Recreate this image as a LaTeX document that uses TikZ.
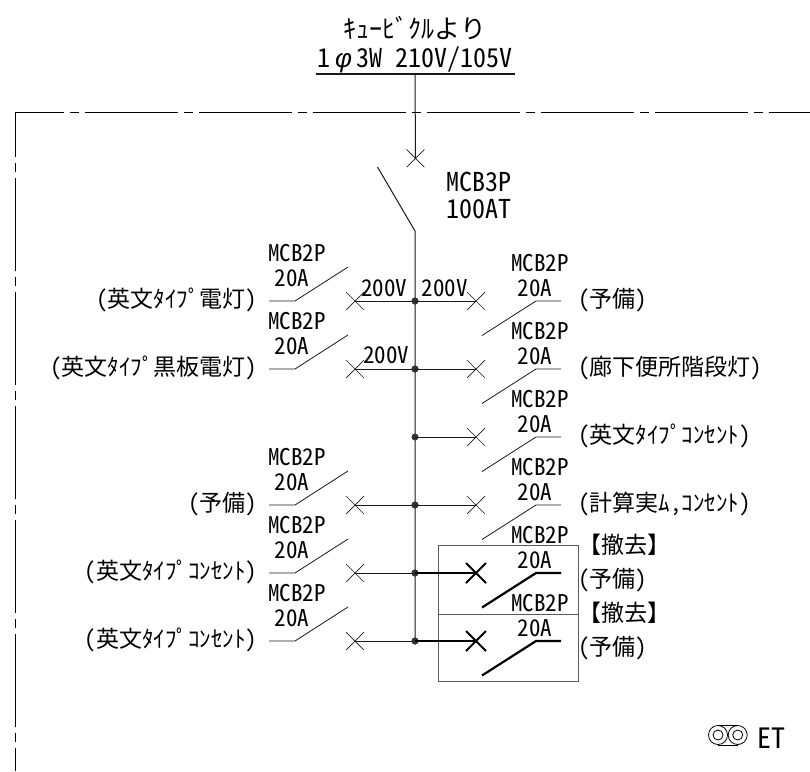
\documentclass[tikz,border=0pt]{standalone}
\usepackage{fontspec}
\usetikzlibrary{shapes.misc}
\newfontfamily\jpf{Noto Sans CJK JP}[RawFeature={+hwid}]
\newfontfamily\phif{Liberation Sans}
\tikzset{
  txt/.style={inner sep=0pt,outer sep=0pt,font=\jpf\fontsize{23}{26}\selectfont},
  big/.style={inner sep=0pt,outer sep=0pt,font=\jpf\fontsize{26}{29}\selectfont},
  wire/.style={line width=1pt,black!90},
  heavy/.style={line width=2.2pt,black},
  brk/.style={cross out,draw,inner sep=0pt,minimum size=17pt,line width=0.7pt,black!90},
  brkheavy/.style={cross out,draw,inner sep=0pt,minimum size=18pt,line width=2pt,black},
  junction/.style={circle,fill=black!80,inner sep=0pt,minimum size=7pt},
  boxline/.style={line width=0.9pt,black!65},
  frameline/.style={line width=1pt,black,dash pattern=on 93pt off 6pt on 9pt off 6pt,dash phase=70pt}
}
% left branch: id, y, label
\newcommand{\leftbranch}[3]{
  \node[junction] (dL#1) at (415,#2) {};
  \node[brk] (xL#1) at (355,#2) {};
  \draw[wire] (dL#1.center) -- (xL#1.center);
  \coordinate (aL#1) at (269,#2);
  \coordinate (bL#1) at (295,#2);
  \coordinate (cL#1) at (348,#2-34);
  \draw[wire,line width=0.8pt] (aL#1) -- (bL#1) -- (cL#1);
  \node[txt,anchor=base] (mL#1) at (297,#2-39.5) {MCB2P};
  \node[txt,anchor=base] (rL#1) at (292,#2-15) {20A};
  \node[txt,anchor=base east] (tL#1) at (257,#2+6) {#3};
}
% right branch: id, y, label
\newcommand{\rightbranch}[3]{
  \node[junction] (dR#1) at (415,#2) {};
  \node[brk] (xR#1) at (476,#2) {};
  \draw[wire] (dR#1.center) -- (xR#1.center);
  \coordinate (aR#1) at (561,#2);
  \coordinate (bR#1) at (536,#2);
  \coordinate (cR#1) at (482,#2+34.5);
  \draw[wire,line width=0.8pt] (aR#1) -- (bR#1) -- (cR#1);
  \node[txt,anchor=base] (mR#1) at (540,#2-29.5) {MCB2P};
  \node[txt,anchor=base] (rR#1) at (535,#2-5) {20A};
  \node[txt,anchor=base west] (tR#1) at (578,#2+6) {#3};
}
% heavy right branch: id, y
\newcommand{\heavybranch}[2]{
  \node[junction] (dR#1) at (415,#2) {};
  \node[brkheavy] (xR#1) at (476,#2) {};
  \draw[heavy] (dR#1.center) -- (xR#1.center);
  \coordinate (aR#1) at (561,#2);
  \coordinate (bR#1) at (536,#2);
  \coordinate (cR#1) at (482,#2+34.5);
  \draw[heavy] (aR#1) -- (bR#1) -- (cR#1);
  \node[txt,anchor=base] (mR#1) at (540,#2-30) {MCB2P};
  \node[txt,anchor=base] (rR#1) at (535,#2-5) {20A};
  \node[txt,anchor=base] (hR#1) at (624,#2-20) {【撤去】};
  \node[txt,anchor=base west] (tR#1) at (578,#2+14) {（予備）};
}
\begin{document}
\begin{tikzpicture}[x=1pt,y=-1pt]
\useasboundingbox (0,0) rectangle (810,771);
% frame
\coordinate (fa) at (15,771);
\coordinate (fb) at (15,112.5);
\coordinate (fc) at (810,112.5);
\draw[frameline] (fa) -- (fb) -- (fc);
% title
\node[big,anchor=base] (ttl) at (415,38) {ｷｭｰﾋﾞｸﾙより};
\node[big,anchor=base] (sup) at (415,67) {1{\phif\itshape\,φ\,}3W 210V/105V};
\coordinate (supL) at (316,74);
\coordinate (supR) at (515,74);
\draw[wire,line width=1.1pt] (supL) -- (supR);
\coordinate (supM) at (415,74);
\node[brk] (xmain) at (415.5,158.3) {};
\draw[wire] (supM) -- (xmain.center);
\coordinate (swA) at (377.5,167);
\coordinate (swB) at (415,231);
\coordinate (busEnd) at (415,641);
\draw[wire] (swA) -- (swB) -- (busEnd);
\node[big,anchor=base] (mcbm) at (479,191) {MCB3P};
\node[big,anchor=base] (mcba) at (479,218) {100AT};
% box
\coordinate (b1) at (438,545);
\coordinate (b2) at (578.7,614);
\coordinate (b3) at (438,681.7);
\coordinate (b4) at (578.7,545);
\draw[boxline] (b1) rectangle (b2);
\draw[boxline] (b2 -| b1) rectangle (b3 -| b2);
% branches
\leftbranch{1}{301}{（英文ﾀｲﾌﾟ電灯）}
\leftbranch{2}{369}{（英文ﾀｲﾌﾟ黒板電灯）}
\leftbranch{3}{505}{（予備）}
\leftbranch{4}{573}{（英文ﾀｲﾌﾟｺﾝｾﾝﾄ）}
\leftbranch{5}{641}{（英文ﾀｲﾌﾟｺﾝｾﾝﾄ）}
\rightbranch{1}{301}{（予備）}
\rightbranch{2}{369}{（廊下便所階段灯）}
\rightbranch{3}{437}{（英文ﾀｲﾌﾟｺﾝｾﾝﾄ）}
\rightbranch{4}{505}{（計算実ﾑ,ｺﾝｾﾝﾄ）}
\heavybranch{5}{573}
\heavybranch{6}{641}
% voltages
\node[txt,anchor=base] (v1) at (384,296) {200V};
\node[txt,anchor=base] (v2) at (444.5,296) {200V};
\node[txt,anchor=base] (v3) at (386,363) {200V};
% ET
\node[circle,draw,line width=0.8pt,minimum size=19pt,inner sep=0pt] (e1) at (718,735) {};
\node[circle,draw,line width=0.8pt,minimum size=19pt,inner sep=0pt] (e2) at (737.7,735) {};
\node[circle,draw,line width=0.8pt,minimum size=10pt,inner sep=0pt] (e3) at (718,735) {};
\node[circle,draw,line width=0.8pt,minimum size=10pt,inner sep=0pt] (e4) at (737.7,735) {};
\draw[line width=0.8pt] (e1.north) -- (e2.north) (e1.south) -- (e2.south);
\node[inner sep=0pt,font=\jpf\fontsize{28}{30}\selectfont,anchor=base] (et) at (771.5,748) {ET};
\end{tikzpicture}
\end{document}
